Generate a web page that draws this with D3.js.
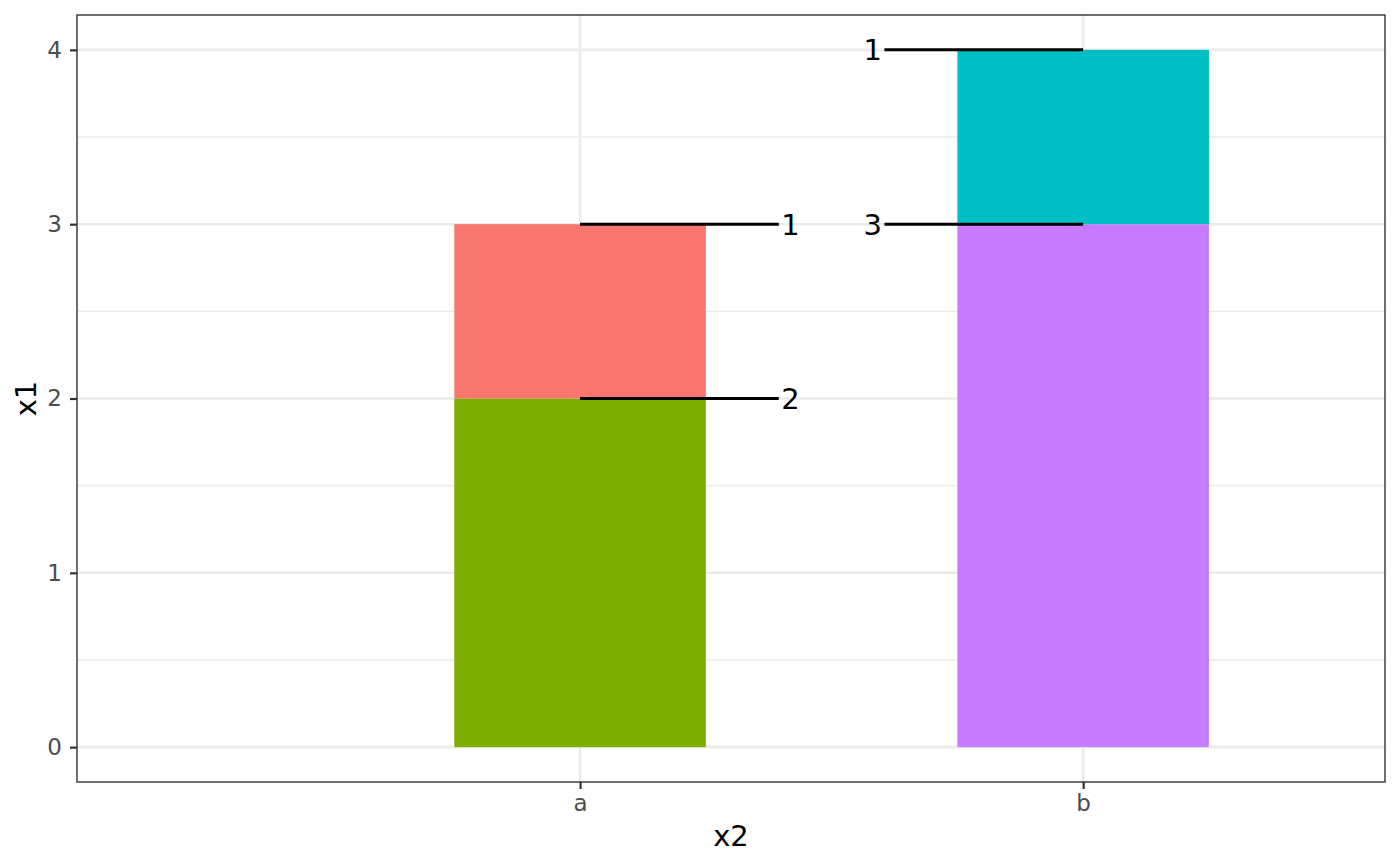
<!DOCTYPE html>
<html>
<head>
<meta charset="utf-8">
<script src="https://cdn.jsdelivr.net/npm/d3@7"></script>
<style>
  body { margin: 0; background: #fff; }
  text { font-family: "DejaVu Sans", sans-serif; }
</style>
</head>
<body>
<script>
// stacked segments, bottom to top per category
const categories = ['a', 'b'];
const segGroup = ['a', 'a', 'b', 'b'];
const segStart = [0, 2, 0, 3];
const segEnd = [2, 3, 3, 4];
const segColor = ['#7CAE00', '#F8766D', '#C77CFF', '#00BFC4'];

// labels with leader lines
const labelGroup = ['a', 'a', 'b', 'b'];
const labelY = [3, 2, 4, 3];
const labelText = ['1', '2', '1', '3'];
const labelSide = [1, 1, -1, -1]; // 1 = to the right, -1 = to the left

const yTicks = [0, 1, 2, 3, 4];
const yMinor = [0.5, 1.5, 2.5, 3.5];

const width = 1400, height = 866;
const margin = { top: 15, right: 15, bottom: 84, left: 77 };
const pw = width - margin.left - margin.right;
const ph = height - margin.top - margin.bottom;

const svg = d3.select('body').append('svg')
    .attr('width', width)
    .attr('height', height);

const g = svg.append('g')
    .attr('transform', `translate(${margin.left},${margin.top})`);

// positions of categories are 1, 2
const pos = d => categories.indexOf(d) + 1;
const x = d3.scaleLinear().domain([0, 2.6]).range([0, pw]);
const y = d3.scaleLinear().domain([-0.2, 4.2]).range([ph, 0]);

// grid
g.selectAll('.minor').data(yMinor).enter().append('line')
    .attr('x1', 0).attr('x2', pw)
    .attr('y1', d => y(d)).attr('y2', d => y(d))
    .attr('stroke', '#EBEBEB').attr('stroke-width', 1.3);

g.selectAll('.majory').data(yTicks).enter().append('line')
    .attr('x1', 0).attr('x2', pw)
    .attr('y1', d => y(d)).attr('y2', d => y(d))
    .attr('stroke', '#EBEBEB').attr('stroke-width', 2.6);

g.selectAll('.majorx').data(categories).enter().append('line')
    .attr('x1', d => x(pos(d))).attr('x2', d => x(pos(d)))
    .attr('y1', 0).attr('y2', ph)
    .attr('stroke', '#EBEBEB').attr('stroke-width', 2.6);

// bars
const barW = x(0.5) - x(0);
g.selectAll('.bar').data(segStart).enter().append('rect')
    .attr('x', (d, i) => x(pos(segGroup[i])) - barW / 2)
    .attr('width', barW)
    .attr('y', (d, i) => y(segEnd[i]))
    .attr('height', (d, i) => y(d) - y(segEnd[i]))
    .attr('fill', (d, i) => segColor[i]);

// leader lines and labels
g.selectAll('.seg').data(labelY).enter().append('line')
    .attr('x1', (d, i) => x(pos(labelGroup[i])))
    .attr('x2', (d, i) => x(pos(labelGroup[i]) + labelSide[i] * 0.395))
    .attr('y1', d => y(d)).attr('y2', d => y(d))
    .attr('stroke', '#000').attr('stroke-width', 3);

g.selectAll('.lab').data(labelY).enter().append('text')
    .attr('x', (d, i) => x(pos(labelGroup[i]) + labelSide[i] * 0.4))
    .attr('y', d => y(d))
    .attr('dy', '0.36em')
    .attr('text-anchor', (d, i) => labelSide[i] > 0 ? 'start' : 'end')
    .attr('font-size', 29)
    .attr('fill', '#000')
    .text((d, i) => labelText[i]);

// panel border
g.append('rect')
    .attr('width', pw).attr('height', ph)
    .attr('fill', 'none').attr('stroke', '#333333').attr('stroke-width', 1.4);

// axes
const yAxis = g.append('g')
    .call(d3.axisLeft(y).tickValues(yTicks).tickSize(7).tickPadding(8).tickFormat(d3.format('d')));
const xAxis = g.append('g')
    .attr('transform', `translate(0,${ph})`)
    .call(d3.axisBottom(x).tickValues(categories.map(pos)).tickSize(7).tickPadding(6)
        .tickFormat(d => categories[d - 1]));
[yAxis, xAxis].forEach(a => {
    a.attr('font-size', 23);
    a.select('.domain').remove();
    a.selectAll('.tick line').attr('stroke', '#333333').attr('stroke-width', 2.2);
    a.selectAll('.tick text').attr('fill', '#4D4D4D')
        .style('font-family', '"DejaVu Sans", sans-serif');
});

// axis titles
svg.append('text')
    .attr('x', margin.left + pw / 2)
    .attr('y', 846)
    .attr('text-anchor', 'middle')
    .attr('font-size', 29)
    .text('x2');

svg.append('text')
    .attr('transform', `translate(36,${margin.top + ph / 2}) rotate(-90)`)
    .attr('text-anchor', 'middle')
    .attr('font-size', 29)
    .text('x1');
</script>
</body>
</html>
